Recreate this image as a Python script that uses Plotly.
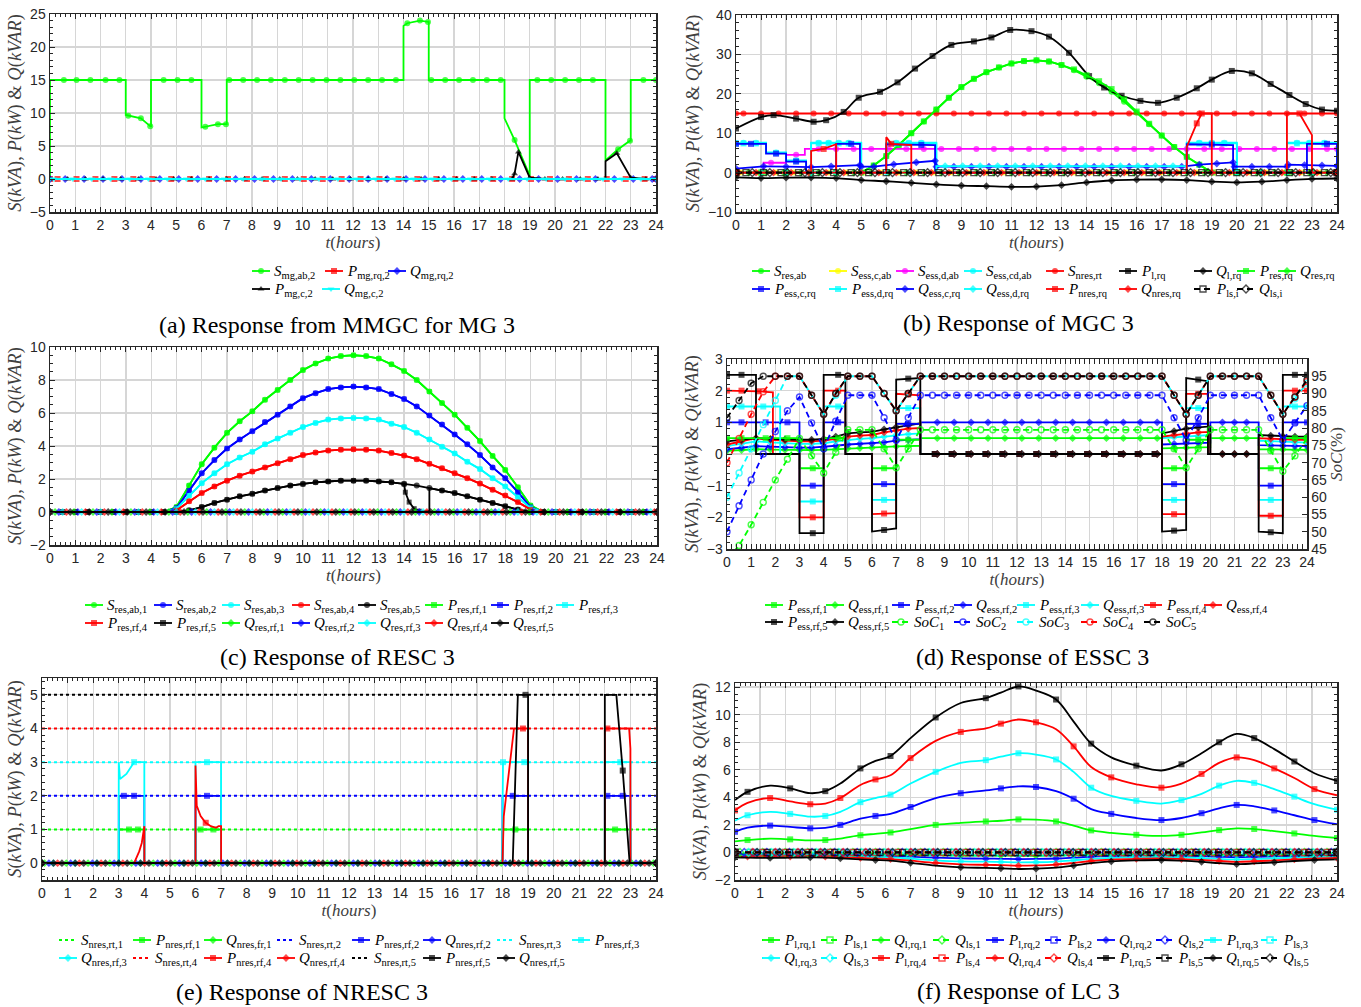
import numpy as np
import plotly.graph_objects as go

W, H = 1361, 1007

# ============================ DATA ============================
# ---------- (a) Response from MMGC for MG 3 ----------
A_S_ab2_t = [0, 0, 0.55, 1.05, 1.6, 2.2, 2.75, 3, 3, 3.1, 3.6, 3.97, 4, 4,
             4.5, 5.05, 5.6, 6, 6, 6.15, 6.65, 6.97, 7, 7,
             7.1, 7.65, 8.2, 8.75, 9.3, 9.85, 10.4, 10.95, 11.5, 12.05, 12.6, 13.15, 13.7, 14, 14,
             14.15, 14.65, 14.97, 15, 15,
             15.1, 15.65, 16.2, 16.75, 17.3, 17.85, 18, 18, 18.4, 19, 19,
             19.3, 19.85, 20.4, 20.95, 21.5, 22, 22, 22.5, 22.97, 23, 23, 23.5, 24]
A_S_ab2 = [0, 15, 15, 15, 15, 15, 15, 15, 9.7, 9.6, 9.2, 8.0, 8.0, 15,
           15, 15, 15, 15, 7.8, 7.9, 8.3, 8.3, 8.3, 15,
           15, 15, 15, 15, 15, 15, 15, 15, 15, 15, 15, 15, 15, 15, 23.2,
           23.6, 24.0, 23.8, 23.8, 15,
           15, 15, 15, 15, 15, 15, 15, 9.2, 5.9, 0.5, 15,
           15, 15, 15, 15, 15, 15, 2.8, 4.5, 5.8, 5.8, 15, 15, 15]
A_P_c2_t = [0, 0.7, 1.4, 2.1, 2.8, 3.5, 4.2, 4.9, 5.6, 6.3, 7.0, 7.7, 8.4, 9.1, 9.8, 10.5,
            11.2, 11.9, 12.6, 13.3, 14.0, 14.7, 15.4, 16.1, 16.8, 17.5,
            18.3, 18.4, 18.55, 19.0, 19.6, 20.3, 21.0, 21.7, 22.0, 22.0, 22.45, 23.0, 23.6, 24.0]
A_P_c2 = [0] * 27 + [0.8, 4.1, 0.2] + [0] * 4 + [0, 2.7, 3.9, 0.2] + [0, 0]

# ---------- (b) Response of MGC 3 ----------
B_P_l_rq_t = [0, 1, 1.5, 2.4, 3.1, 3.6, 4.3, 4.9, 5.75, 6.45, 7.15, 7.85, 8.6, 9.5, 10.2, 10.95,
              11.8, 12.5, 13.3, 14.1, 14.7, 15.4, 16.15, 16.85, 17.6, 18.4, 19, 19.8, 20.6,
              21.35, 22.1, 22.75, 23.4, 24]
B_P_l_rq = [11.2, 14.1, 14.6, 13.7, 12.9, 13.3, 15.4, 19, 20.5, 22.9, 26.4, 29.6, 32.4, 33.3, 34.3,
            36.2, 35.9, 34.5, 30.4, 24.5, 21.6, 19.5, 18.2, 17.7, 19, 21.4, 23.6, 25.8, 25.2,
            22.5, 19.7, 17.4, 16, 15.7]
B_Q_l_rq_t = [0, 1, 2, 3, 4, 5, 6, 7, 8, 9, 10, 11, 12, 13, 14, 15, 16, 17, 18, 19, 20, 21, 22, 23, 24]
B_Q_l_rq = [-1.2, -1.4, -1.3, -1.25, -1.4, -1.9, -2.2, -2.6, -3.0, -3.3, -3.45, -3.6, -3.55,
            -3.2, -2.5, -2.0, -1.8, -1.75, -1.9, -2.3, -2.5, -2.3, -1.9, -1.6, -1.5]
B_RES_t = [0, 1, 2, 3, 4, 5, 5.5, 6, 6.5, 7, 7.5, 8, 8.5, 9, 9.5, 10, 10.5, 11, 11.5, 12, 12.5,
           13, 13.5, 14, 14.5, 15, 15.5, 16, 16.5, 17, 17.5, 18, 18.5, 19, 20, 21, 22, 23, 24]
B_S_res_ab = [0, 0, 0, 0, 0, 0, 1.8, 4.2, 7, 10, 13, 16, 19, 21.7, 23.8, 25.5, 26.7, 27.7, 28.3,
              28.5, 28.2, 27.3, 26, 24.3, 22.7, 20.5, 18, 15.2, 12.3, 9.4, 6.5, 4, 2, 0, 0, 0, 0, 0, 0]
B_P_res_rq = [0, 0, 0, 0, 0, 0, 1.8, 4.2, 7, 10, 13, 16, 19, 21.7, 23.8, 25.5, 26.7, 27.7, 28.3,
              28.5, 28.2, 27.3, 26.2, 24.7, 23.2, 21.2, 18.6, 15.5, 12.4, 9.4, 6.5, 4, 2, 0, 0, 0, 0, 0, 0]
B_ESS_CD_t = [0, 0.3, 0.8, 1.2, 1.2, 1.6, 2, 2, 2.4, 2.8, 2.8, 3, 3, 3.3, 3.7, 4.1, 4.5, 5, 5,
              6, 6, 6.4, 6.9, 7.4, 8, 8, 18, 18, 18.5, 19.0, 19.5, 20, 20, 22, 22, 22.4, 22.9, 23.5, 24, 24]
B_S_ess_cd_ab = [7.5, 7.6, 7.6, 7.6, 5.1, 5.1, 5.1, 3.1, 3.1, 3.1, 0, 0, 7.6, 7.6, 7.6, 7.6, 7.6, 7.6, 0,
                 0, 7.6, 7.6, 7.6, 7.6, 7.6, 0, 0, 7.6, 7.6, 7.6, 7.6, 7.6, 0, 0, 7.6, 7.6, 7.6, 7.6, 7.6, 0]
B_P_ess_d_rq = [7.4, 7.4, 7.4, 7.4, 5.0, 5.0, 5.0, 3.0, 3.0, 3.0, 0, 0, 7.4, 7.4, 7.4, 7.4, 7.4, 7.4, 0,
                0, 7.4, 7.4, 7.4, 7.4, 7.4, 0, 0, 7.4, 7.4, 7.4, 7.4, 7.4, 0, 0, 7.4, 7.4, 7.4, 7.4, 7.4, 0]
B_P_ess_c_rq_t = [0, 0.6, 1.2, 1.2, 1.6, 2, 2, 2.4, 2.8, 2.8, 4, 4, 4.6, 4.95, 4.95, 6, 6, 7.4, 7.95,
                  7.95, 18, 18, 19.0, 19.85, 19.85, 22.8, 22.8, 23.6, 24, 24]
B_P_ess_c_rq = [7.3, 7.3, 7.3, 4.8, 4.8, 4.8, 2.8, 2.8, 2.8, 0, 0, 7.3, 7.3, 7.3, 0, 0, 7.2, 7.0, 7.0,
                0, 0, 7.2, 7.1, 7.0, 0, 0, 7.3, 7.3, 7.3, 0]
B_S_ess_d_ab_t = [0, 1.1, 1.1, 1.4, 2.0, 2.0, 2.4, 2.75, 2.75, 3.3, 4.0, 4.7, 5.4, 6.1, 6.8, 7.5, 8.2,
                  8.9, 9.6, 10.3, 11.0, 11.7, 12.4, 13.1, 13.8, 14.5, 15.2, 15.9, 16.6, 17.3, 18.0,
                  18.7, 19.4, 20.1, 20.8, 21.5, 22.2, 22.9, 23.6, 24.0]
B_S_ess_d_ab = [0, 0, 2.5, 2.5, 2.5, 4.5, 4.5, 4.5, 6.0] + [6.0] * 31
B_Q_ess_c_rq_t = [0, 1.1, 2.0, 3.0, 3.8, 4.95, 5.0, 5.5, 6.3, 7.2, 7.95, 8.0, 8.7, 9.4, 10.1, 10.8,
                  11.5, 12.2, 12.9, 13.6, 14.3, 15.0, 15.7, 16.4, 17.1, 17.8, 18.5, 19.2, 19.85,
                  19.9, 20.6, 21.3, 22.0, 22.05, 22.7, 23.4, 24.0]
B_Q_ess_c_rq = [1.0, 1.6, 1.5, 1.4, 1.6, 1.9, 1.5, 1.5, 2.1, 2.6, 3.0] + [1.5] * 15 + \
               [2.0, 2.3, 2.6] + [1.5] * 4 + [2.0, 1.9, 1.8, 1.7]
B_Q_ess_d_rq_t = [0, 1, 2, 3, 4, 5, 6, 7, 8, 8, 8.35, 9.05, 9.75, 10.45, 11.15, 11.85, 12.55, 13.25,
                  13.95, 14.65, 15.35, 16.05, 16.75, 17.45, 18, 18, 19, 20, 21, 22, 23, 24]
B_Q_ess_d_rq = [0] * 9 + [1.65] * 16 + [0] * 7
B_P_nres_rq_t = [0, 3, 3, 3.5, 4, 4, 6, 6, 6.2, 7, 7, 18, 18, 18.4, 18.6, 19, 19, 22, 22, 22.5, 23, 23, 24]
B_P_nres_rq = [0, 0, 5.5, 6, 7.2, 0, 0, 9, 7.3, 7, 0, 0, 6.5, 12.5, 15, 15, 0, 0, 15, 15, 9.5, 0, 0]
B_S_NRES_LEVEL = 15

# ---------- (c) Response of RESC 3 ----------
T_C = [round(v, 2) for v in np.arange(0, 24.01, 0.5)]
C_S1 = [0] * 10 + [0.3, 1.6, 2.9, 3.9, 4.8, 5.5, 6.1, 6.8, 7.4, 8.0, 8.6, 9.0, 9.3, 9.45, 9.5, 9.45,
                   9.3, 8.95, 8.55, 8.0, 7.3, 6.6, 5.9, 5.1, 4.3, 3.4, 2.55, 1.5, 0.4] + [0] * 10
C_S2 = [0] * 10 + [0.25, 1.3, 2.35, 3.15, 3.85, 4.4, 4.9, 5.45, 5.9, 6.4, 6.9, 7.2, 7.45, 7.55, 7.6,
                   7.55, 7.45, 7.15, 6.85, 6.4, 5.85, 5.3, 4.7, 4.1, 3.45, 2.7, 2.05, 1.2, 0.3] + [0] * 10
C_S3 = [0] * 10 + [0.2, 1.0, 1.75, 2.35, 2.9, 3.3, 3.65, 4.1, 4.45, 4.8, 5.15, 5.4, 5.6, 5.67, 5.7,
                   5.67, 5.6, 5.35, 5.15, 4.8, 4.4, 3.95, 3.55, 3.05, 2.6, 2.05, 1.55, 0.9, 0.25] + [0] * 10
C_S4 = [0] * 10 + [0.1, 0.65, 1.15, 1.55, 1.9, 2.2, 2.45, 2.7, 2.95, 3.2, 3.45, 3.6, 3.72, 3.78, 3.8,
                   3.78, 3.72, 3.58, 3.42, 3.2, 2.92, 2.65, 2.35, 2.05, 1.72, 1.35, 1.0, 0.6, 0.15] + [0] * 10
C_S5 = [0] * 10 + [0, 0.1, 0.3, 0.55, 0.75, 0.95, 1.1, 1.3, 1.45, 1.6, 1.7, 1.8, 1.85, 1.9, 1.9,
                   1.9, 1.85, 1.8, 1.7, 1.6, 1.45, 1.3, 1.15, 0.95, 0.75, 0.55, 0.35, 0.15, 0] + [0] * 10
C_P5_t = [round(v, 2) for v in np.arange(0, 14.01, 0.5)] + [14.05, 14.2, 14.4, 14.6, 15, 15] + \
         [round(v, 2) for v in np.arange(15.5, 24.01, 0.5)]
C_P5 = [0] * 10 + [0, 0.1, 0.3, 0.55, 0.75, 0.95, 1.1, 1.3, 1.45, 1.6, 1.7, 1.8, 1.85, 1.9, 1.9, 1.9,
                   1.85, 1.8, 1.7] + [1.2, 0.6, 0.2, 0.05, 0.05, 1.45] + \
       [1.3, 1.15, 0.95, 0.75, 0.55, 0.35, 0.15, 0] + [0] * 10

# ---------- (d) Response of ESSC 3 ----------
D_MID_T = [8.6, 9.3, 10.0, 10.7, 11.4, 12.1, 12.8, 13.5, 14.2, 14.9, 15.6, 16.3, 17.0, 17.7]
D_LAST_T = [18, 18, 18.5, 19, 19, 19.5, 19.9, 19.9, 22, 22, 22.5, 23, 23, 23.5, 24]
D_P5_T = [0, 0.6, 1.2, 1.2, 3, 3, 3.55, 4, 4, 4.6, 4.9, 4.9, 6, 6, 6.5, 7, 7, 7.5, 8, 8]
D_P4_T = [0, 0.6, 1.3, 1.9, 1.9, 3, 3, 3.55, 4, 4, 4.6, 4.9, 4.9, 6, 6, 6.5, 7, 7, 7.5, 8, 8]
D_P3_T = [0, 0.6, 1.5, 2.2, 2.2, 3, 3, 3.55, 4, 4, 4.6, 4.9, 4.9, 6, 6, 6.5, 7, 7, 7.5, 8, 8]
D_P12_T = [0, 0.6, 1.6, 2.5, 3, 3, 3.55, 4, 4, 4.6, 4.9, 4.9, 6, 6, 6.5, 7, 7, 7.5, 8, 8]
D_P5 = [2.5, 2.5, 2.5, 0, 0, -2.5, -2.5, -2.5, 2.5, 2.5, 2.5, 0, 0, -2.45, -2.4, -2.35, 2.35, 2.38, 2.4, 0] + \
       [0] * 14 + [0, -2.45, -2.42, -2.4, 2.4, 2.35, 2.3, 0, 0, -2.45, -2.47, -2.5, 2.5, 2.5, 2.5]
D_P4 = [2.0, 2.0, 1.98, 1.95, 0, 0, -2.0, -2.0, -2.0, 2.0, 2.0, 2.0, 0, 0, -1.9, -1.88, -1.87, 1.9, 1.88, 1.85, 0] + \
       [0] * 14 + [0, -1.9, -1.9, -1.9, 1.9, 1.9, 1.9, 0, 0, -1.95, -1.95, -1.95, 2.0, 2.0, 2.0]
D_P3 = [1.5, 1.5, 1.5, 1.5, 0, 0, -1.5, -1.5, -1.5, 1.5, 1.5, 1.5, 0, 0, -1.45, -1.45, -1.45, 1.45, 1.45, 1.45, 0] + \
       [0] * 14 + [0, -1.45, -1.45, -1.45, 1.45, 1.45, 1.45, 0, 0, -1.45, -1.45, -1.45, 1.5, 1.5, 1.5]
D_P2 = [1.0, 1.0, 1.0, 1.0, 1.0, -1.0, -1.0, -1.0, 1.0, 1.0, 1.0, 0, 0, -0.95, -0.95, -0.95, 0.95, 0.95, 0.95, 0] + \
       [0] * 14 + [0, -0.95, -0.95, -0.95, 0.95, 0.95, 0.95, 0, 0, -1.0, -1.0, -1.0, 1.0, 1.0, 1.0]
D_P1 = [0.5, 0.5, 0.5, 0.5, 0.5, -0.45, -0.45, -0.45, 0.5, 0.5, 0.5, 0, 0, -0.45, -0.45, -0.45, 0.45, 0.45, 0.45, 0] + \
       [0] * 14 + [0, -0.45, -0.45, -0.45, 0.45, 0.45, 0.45, 0, 0, -0.45, -0.45, -0.45, 0.5, 0.5, 0.5]
D_QT = [0, 0.6, 1.2, 1.8, 2.4, 3.0, 3.5, 4.0, 4.5, 5.0, 5.5, 6.0, 6.5, 7.0, 7.5, 8.0, 8.0,
        8.7, 9.4, 10.1, 10.8, 11.5, 12.2, 12.9, 13.6, 14.3, 15.0, 15.7, 16.4, 17.1, 17.8,
        18.0, 18.0, 18.5, 19.0, 19.5, 20.0, 20.0, 20.5, 21.0, 21.5, 22.0, 22.0, 22.5, 23.0, 23.5, 24.0]
D_Q5 = [0.4, 0.45, 0.5, 0.48, 0.46, 0.45, 0.45, 0.48, 0.55, 0.65, 0.68, 0.7, 0.78, 0.85, 0.92, 0.97, 0] + \
       [0] * 14 + [0, 0.65, 0.72, 0.8, 0.84, 0.87, 0, 0, 0, 0, 0, 0.6, 0.58, 0.56, 0.55, 0.55]
D_Q4 = [0.3, 0.4, 0.5, 0.45, 0.42, 0.4, 0.4, 0.42, 0.48, 0.55, 0.58, 0.6, 0.68, 0.75, 0.8, 0.82, 0] + \
       [0] * 14 + [0, 0.55, 0.6, 0.65, 0.68, 0.7, 0, 0, 0, 0, 0, 0.5, 0.48, 0.46, 0.45, 0.45]
D_Q3 = [0.25, 0.32, 0.4, 0.37, 0.34, 0.32, 0.32, 0.34, 0.4, 0.45, 0.48, 0.5, 0.55, 0.6, 0.63, 0.65, 0] + \
       [0] * 14 + [0, 0.5, 0.53, 0.56, 0.58, 0.6, 0, 0, 0, 0, 0, 0.42, 0.4, 0.38, 0.37, 0.36]
D_Q2 = [0.15, 0.2, 0.25, 0.23, 0.21, 0.2, 0.2, 0.22, 0.26, 0.3, 0.32, 0.33, 0.37, 0.42, 0.45, 0.47, 1.0] + \
       [1.0] * 14 + [1.0, 0.3, 0.32, 0.34, 0.35, 0.36, 1.0, 1.0, 1.0, 1.0, 1.0, 0.28, 0.27, 0.26, 0.25, 0.25]
D_Q1 = [0.1, 0.12, 0.15, 0.14, 0.13, 0.12, 0.12, 0.13, 0.15, 0.18, 0.19, 0.2, 0.22, 0.24, 0.25, 0.26, 0.5] + \
       [0.5] * 14 + [0.5, 0.18, 0.19, 0.2, 0.21, 0.22, 0.5, 0.5, 0.5, 0.5, 0.5, 0.15, 0.14, 0.14, 0.13, 0.13]
T_D = [round(v, 2) for v in np.arange(0, 24.01, 0.5)]
D_SOC5 = [83, 88, 93, 95, 95, 95, 95, 89.5, 84, 90, 95, 95, 95, 90, 85, 90, 95] + [95] * 20 + \
         [89.5, 84, 89.5, 95, 95, 95, 95, 95, 89.5, 84, 89, 94]
D_SOC4 = [70, 77, 84, 90.5, 95, 95, 95, 89.5, 84, 90, 95, 95, 95, 90, 85, 90, 95] + [95] * 20 + \
         [89.5, 84, 89.5, 95, 95, 95, 95, 95, 89.5, 84, 89, 93.5]
D_SOC3 = [60, 67, 74, 81, 88, 95, 95, 89.5, 84, 89.5, 95, 95, 95, 90, 85, 90, 95] + [95] * 20 + \
         [89.5, 84, 89.5, 95, 95, 95, 95, 95, 89.5, 84, 88.5, 93]
D_SOC2 = [50, 57.5, 65, 72.5, 79, 85, 89, 81.5, 74, 82, 89.5, 89.5, 89.5, 83, 76.5, 83, 89.5] + [89.5] * 20 + \
         [83, 76.5, 83, 89.5, 89.5, 89.5, 89.5, 89.5, 83, 76.5, 81.5, 86.5]
D_SOC1 = [42, 46, 52, 58.5, 65, 71, 77, 72, 67, 73, 79.5, 79.5, 79.5, 74, 68.5, 74, 79.5] + [79.5] * 20 + \
         [74, 68.5, 74, 79.5, 79.5, 79.5, 79.5, 79.5, 73.5, 67.5, 72, 77]

# ---------- (e) Response of NRESC 3 ----------
E_S_RT = [1, 2, 3, 4, 5]          # S_nres,rt,k levels
E_P1_t = [0, 3, 3, 3.4, 3.75, 4, 4, 6, 6, 6.2, 6.7, 7, 7, 18, 18, 18.5, 19, 19, 22, 22, 22.4, 23, 23, 24]
E_P1 = [0, 0, 1, 1, 1, 1, 0, 0, 1, 1, 1, 1, 0, 0, 1, 1, 1, 0, 0, 1, 1, 1, 0, 0]
E_P2_t = [0, 3, 3, 3.2, 3.6, 4, 4, 6, 6, 6.45, 7, 7, 18, 18, 18.4, 19, 19, 22, 22, 22.1, 22.7, 23, 23, 24]
E_P2 = [0, 0, 2, 2, 2, 2, 0, 0, 2, 2, 2, 0, 0, 2, 2, 2, 0, 0, 2, 2, 2, 2, 0, 0]
E_P3_t = [0, 3, 3, 3.05, 3.3, 3.6, 4, 4, 6, 6, 6.45, 7, 7, 18, 18, 18.02, 18.85, 19, 19,
          22, 22, 22.6, 23, 23, 24]
E_P3 = [0, 0, 3, 2.5, 2.65, 3, 3, 0, 0, 3, 3, 3, 0, 0, 1.4, 3, 3, 3, 0, 0, 3, 3, 3, 0, 0]
E_P4_t = [0, 3.6, 3.8, 3.9, 4, 4, 6, 6, 6.05, 6.2, 6.4, 6.6, 6.8, 6.9, 7, 7,
          18, 18.05, 18.45, 18.8, 19, 19, 22, 22, 22.1, 22.95, 23, 23, 24]
E_P4 = [0, 0, 0.35, 0.6, 1.1, 0, 0, 2.9, 1.7, 1.4, 1.2, 1.1, 1.05, 1.1, 1.1, 0,
        0, 1.4, 4, 4, 4, 0, 0, 4, 4, 4, 3.4, 0, 0]
E_P5_t = [0, 18.4, 18.6, 18.9, 19, 19, 22, 22, 22.45, 22.7, 22.97, 24]
E_P5 = [0, 0, 5, 5, 5, 0, 0, 5, 5, 2.75, 0, 0]

# ---------- (f) Response of LC 3 ----------
T_F = [0, 0.5, 1.4, 2.2, 3.0, 3.6, 4.2, 5.0, 5.6, 6.2, 7.0, 8.0, 9.0, 10.0, 10.6, 11.3, 12.0, 12.8,
       13.5, 14.2, 15.0, 16.0, 17.0, 17.8, 18.6, 19.3, 20.0, 20.7, 21.5, 22.3, 23.1, 24.0]
F_P5 = [3.8, 4.4, 4.85, 4.65, 4.3, 4.45, 5.0, 6.1, 6.65, 7.0, 8.3, 9.8, 10.85, 11.2, 11.6, 12.05, 11.75,
        11.1, 9.5, 7.9, 6.9, 6.3, 5.95, 6.4, 7.2, 8.0, 8.6, 8.3, 7.5, 6.6, 5.75, 5.2]
F_P4 = [3.05, 3.6, 3.95, 3.7, 3.5, 3.55, 3.95, 4.9, 5.3, 5.6, 6.85, 8.1, 8.75, 9.0, 9.35, 9.65, 9.45,
        8.95, 7.7, 6.2, 5.45, 4.95, 4.7, 5.0, 5.7, 6.5, 6.9, 6.7, 6.1, 5.4, 4.6, 4.15]
F_P3 = [2.3, 2.7, 2.95, 2.8, 2.6, 2.65, 2.95, 3.65, 3.95, 4.2, 5.0, 5.85, 6.5, 6.7, 6.95, 7.2, 7.1,
        6.75, 5.85, 4.7, 4.1, 3.75, 3.55, 3.8, 4.25, 4.85, 5.2, 5.05, 4.6, 4.05, 3.5, 3.1]
F_P2 = [1.5, 1.8, 1.95, 1.85, 1.75, 1.78, 2.0, 2.45, 2.65, 2.8, 3.3, 3.95, 4.3, 4.5, 4.65, 4.8, 4.75,
        4.45, 3.9, 3.15, 2.8, 2.5, 2.35, 2.5, 2.85, 3.2, 3.45, 3.35, 3.05, 2.7, 2.35, 2.05]
F_P1 = [0.8, 0.9, 1.0, 0.95, 0.88, 0.9, 1.0, 1.25, 1.35, 1.45, 1.7, 2.0, 2.15, 2.25, 2.3, 2.4, 2.38,
        2.25, 1.95, 1.6, 1.42, 1.28, 1.2, 1.28, 1.45, 1.62, 1.75, 1.7, 1.55, 1.38, 1.2, 1.05]
F_Q5 = [-0.35, -0.38, -0.4, -0.38, -0.35, -0.37, -0.42, -0.5, -0.55, -0.6, -0.75, -0.95, -1.08, -1.12,
        -1.15, -1.2, -1.18, -1.1, -0.95, -0.78, -0.65, -0.58, -0.55, -0.6, -0.68, -0.78, -0.85, -0.8,
        -0.72, -0.62, -0.55, -0.5]
F_Q4 = [-0.28, -0.3, -0.32, -0.3, -0.28, -0.3, -0.34, -0.4, -0.44, -0.48, -0.6, -0.76, -0.86, -0.9,
        -0.92, -0.96, -0.94, -0.88, -0.76, -0.62, -0.52, -0.46, -0.44, -0.48, -0.54, -0.62, -0.68,
        -0.64, -0.58, -0.5, -0.44, -0.4]
F_Q3 = [-0.21, -0.23, -0.24, -0.23, -0.21, -0.22, -0.25, -0.3, -0.33, -0.36, -0.45, -0.57, -0.65,
        -0.67, -0.69, -0.72, -0.71, -0.66, -0.57, -0.47, -0.39, -0.35, -0.33, -0.36, -0.41, -0.47,
        -0.51, -0.48, -0.43, -0.37, -0.33, -0.3]
F_Q2 = [-0.14, -0.15, -0.16, -0.15, -0.14, -0.15, -0.17, -0.2, -0.22, -0.24, -0.3, -0.38, -0.43,
        -0.45, -0.46, -0.48, -0.47, -0.44, -0.38, -0.31, -0.26, -0.23, -0.22, -0.24, -0.27, -0.31,
        -0.34, -0.32, -0.29, -0.25, -0.22, -0.2]
F_Q1 = [-0.07, -0.08, -0.08, -0.08, -0.07, -0.07, -0.08, -0.1, -0.11, -0.12, -0.15, -0.19, -0.22,
        -0.22, -0.23, -0.24, -0.24, -0.22, -0.19, -0.16, -0.13, -0.12, -0.11, -0.12, -0.14, -0.16,
        -0.17, -0.16, -0.14, -0.12, -0.11, -0.1]

XTICKS = list(range(0, 25))
XTICK_LABELS = [str(v) for v in XTICKS]

# ============================ STYLE ============================
GRN, BLU, CYN, RED, BLK, MAG, YEL = '#00ff00', '#0000ff', '#00ffff', '#ff0000', '#000000', '#ff00ff', '#ffff00'
COLS5 = [GRN, BLU, CYN, RED, BLK]
SERIF = 'Liberation Serif, Times New Roman, serif'
SANS = 'Liberation Sans, Arial, sans-serif'
DASH = '6px,4px'

fig = go.Figure()
ann = []


def ax_name(p):
    return 'x' if p == 1 else 'x%d' % p


def ay_name(p):
    return 'y' if p == 1 else 'y%d' % p


def zgrid(off, step):
    return [0.0] + [round(v, 3) for v in np.arange(off, 24.0, step)] + [24.0]


def add_series(p, t, y, color, symbol='circle', dash='solid', ms=6, lw=1.8, mk_idx=None,
               shape='linear', open_mk=False, yaxis=None, mode='lines+markers', xaxis=None):
    t = list(t)
    n = len(t)
    if mk_idx is None:
        sizes = [0 if ((i > 0 and t[i] == t[i - 1]) or (i < n - 1 and t[i] == t[i + 1])) else ms
                 for i in range(n)]
    else:
        ks = set(mk_idx)
        sizes = [ms if i in ks else 0 for i in range(n)]
    sym = (symbol or 'circle') + ('-open' if open_mk else '')
    fig.add_trace(go.Scatter(
        x=t, y=list(y), mode=mode,
        line=dict(color=color, width=lw, dash=dash, shape=shape),
        marker=dict(symbol=sym, size=sizes, color=color,
                    line=dict(color=color, width=1.4 if open_mk else 0)),
        xaxis=xaxis or ax_name(p), yaxis=yaxis or ay_name(p), showlegend=False, hoverinfo='skip'))


def add_zero(p, off, step, color, symbol, dash='solid', open_mk=False, lw=1.8, ms=6):
    t = zgrid(off, step)
    add_series(p, t, [0.0] * len(t), color, symbol, dash=dash, open_mk=open_mk, lw=lw, ms=ms)


def nm(letter, sub):
    return '<i>%s</i><sub>%s</sub>' % (letter, sub)


# ---------------- panel (a) ----------------
add_series(1, A_S_ab2_t, A_S_ab2, GRN, 'circle')
add_zero(1, 0.3, 0.75, RED, 'square')
add_zero(1, 0.6, 0.75, BLU, 'diamond')
add_series(1, A_P_c2_t, A_P_c2, BLK, 'triangle-up')
add_zero(1, 0.15, 0.75, CYN, 'triangle-down')

# ---------------- panel (b) ----------------
add_series(2, B_RES_t, B_S_res_ab, GRN, 'circle')
add_zero(2, 0.2, 0.7, YEL, 'circle')
add_series(2, B_S_ess_d_ab_t, B_S_ess_d_ab, MAG, 'circle')
add_series(2, B_ESS_CD_t, B_S_ess_cd_ab, CYN, 'circle')
t_nres = zgrid(0.3, 0.7)
add_series(2, t_nres, [B_S_NRES_LEVEL] * len(t_nres), RED, 'circle')
add_series(2, B_P_l_rq_t, B_P_l_rq, BLK, 'square', shape='spline')
add_series(2, B_Q_l_rq_t, B_Q_l_rq, BLK, 'diamond', shape='spline')
add_series(2, B_RES_t, B_P_res_rq, GRN, 'square')
add_zero(2, 0.5, 0.7, GRN, 'diamond')
add_series(2, B_ESS_CD_t, B_P_ess_d_rq, CYN, 'square')
add_series(2, B_P_ess_c_rq_t, B_P_ess_c_rq, BLU, 'square')
add_series(2, B_Q_ess_c_rq_t, B_Q_ess_c_rq, BLU, 'diamond')
add_series(2, B_Q_ess_d_rq_t, B_Q_ess_d_rq, CYN, 'diamond')
add_series(2, B_P_nres_rq_t, B_P_nres_rq, RED, 'square')
add_zero(2, 0.1, 0.7, RED, 'diamond')
add_zero(2, 0.4, 0.7, BLK, 'square', dash=DASH, open_mk=True)
add_zero(2, 0.65, 0.7, BLK, 'diamond', dash=DASH, open_mk=True)

# ---------------- panel (c) ----------------
C_S = [C_S1, C_S2, C_S3, C_S4, C_S5]
for k in range(5):
    add_series(3, T_C, C_S[k], COLS5[k], 'circle')
for k in range(4):
    add_series(3, T_C, C_S[k], COLS5[k], 'square', ms=5)
add_series(3, C_P5_t, C_P5, BLK, 'square', ms=5,
           mk_idx=[i for i in range(len(C_P5_t)) if i not in (33, 34)])
for k in range(5):
    add_zero(3, 0.2 + 0.15 * k, 0.75, COLS5[k], 'diamond')

# ---------------- panel (d) ----------------
D_PT = [D_P12_T, D_P12_T, D_P3_T, D_P4_T, D_P5_T]
D_P = [D_P1, D_P2, D_P3, D_P4, D_P5]
D_Q = [D_Q1, D_Q2, D_Q3, D_Q4, D_Q5]
D_SOC = [D_SOC1, D_SOC2, D_SOC3, D_SOC4, D_SOC5]
for k in range(5):
    add_series(4, T_D, D_SOC[k], COLS5[k], 'circle', dash=DASH, open_mk=True, yaxis='y7', ms=6)
for k in range(5):
    add_series(4, D_QT, D_Q[k], COLS5[k], 'diamond')
for k in range(5):
    add_series(4, D_PT[k] + D_MID_T + D_LAST_T, D_P[k], COLS5[k], 'square')

# ---------------- panel (e) ----------------
for k in range(5):
    add_series(5, [0, 24], [E_S_RT[k], E_S_RT[k]], COLS5[k], dash='dot', mode='lines', lw=2)
for k in range(5):
    add_zero(5, 0.1 + 0.17 * k, 0.85, COLS5[k], 'diamond')
add_series(5, E_P1_t, E_P1, GRN, 'square', mk_idx=[3, 4, 9, 10, 15, 20])
add_series(5, E_P2_t, E_P2, BLU, 'square', mk_idx=[3, 4, 9, 14, 19, 20])
add_series(5, E_P3_t, E_P3, CYN, 'square', mk_idx=[5, 10, 15, 16, 21])
add_series(5, E_P4_t, E_P4, RED, 'square', mk_idx=[10, 19, 24])
add_series(5, E_P5_t, E_P5, BLK, 'square', mk_idx=[3, 9])
add_zero(5, 0.45, 0.85, BLK, 'diamond')

# ---------------- panel (f) ----------------
F_P = [F_P1, F_P2, F_P3, F_P4, F_P5]
F_Q = [F_Q1, F_Q2, F_Q3, F_Q4, F_Q5]
for k in range(5):
    add_series(6, T_F, F_Q[k], COLS5[k], 'diamond', shape='spline', mk_idx=list(range(k % 2, 32, 2)))
for k in range(5):
    add_series(6, T_F, F_P[k], COLS5[k], 'square', shape='spline', mk_idx=list(range((k + 1) % 2, 32, 2)))
for k in range(5):
    add_zero(6, 0.2 + 0.17 * k, 0.9, COLS5[k], 'diamond', dash=DASH, open_mk=True)
    add_zero(6, 0.6 + 0.17 * k, 0.9, COLS5[k], 'square', dash=DASH, open_mk=True)

# ============================ LEGENDS (drawn as keys + text) ============================
S_, D_ = 'solid', DASH
LEG_A = [(271, [252, 325, 388], [(nm('S', 'mg,ab,2'), GRN, 'circle', S_, False),
                                 (nm('P', 'mg,rq,2'), RED, 'square', S_, False),
                                 (nm('Q', 'mg,rq,2'), BLU, 'diamond', S_, False)]),
         (289, [252, 322], [(nm('P', 'mg,c,2'), BLK, 'triangle-up', S_, False),
                            (nm('Q', 'mg,c,2'), CYN, 'triangle-down', S_, False)])]
B_COLX = [752, 829, 896, 964, 1046, 1119, 1194, 1237, 1278]
LEG_B = [(271, B_COLX, [(nm('S', 'res,ab'), GRN, 'circle', S_, False), (nm('S', 'ess,c,ab'), YEL, 'circle', S_, False),
                        (nm('S', 'ess,d,ab'), MAG, 'circle', S_, False), (nm('S', 'ess,cd,ab'), CYN, 'circle', S_, False),
                        (nm('S', 'nres,rt'), RED, 'circle', S_, False), (nm('P', 'l,rq'), BLK, 'square', S_, False),
                        (nm('Q', 'l,rq'), BLK, 'diamond', S_, False), (nm('P', 'res,rq'), GRN, 'square', S_, False),
                        (nm('Q', 'res,rq'), GRN, 'diamond', S_, False)]),
         (289, B_COLX, [(nm('P', 'ess,c,rq'), BLU, 'square', S_, False), (nm('P', 'ess,d,rq'), CYN, 'square', S_, False),
                        (nm('Q', 'ess,c,rq'), BLU, 'diamond', S_, False), (nm('Q', 'ess,d,rq'), CYN, 'diamond', S_, False),
                        (nm('P', 'nres,rq'), RED, 'square', S_, False), (nm('Q', 'nres,rq'), RED, 'diamond', S_, False),
                        (nm('P', 'ls,i'), BLK, 'square', D_, True), (nm('Q', 'ls,i'), BLK, 'diamond', D_, True)])]
C_COLX = [85, 154, 222, 292, 358, 425, 491, 556]
LEG_C = [(605, C_COLX, [(nm('S', 'res,ab,%d' % (k + 1)), COLS5[k], 'circle', S_, False) for k in range(5)] +
          [(nm('P', 'res,rf,%d' % (k + 1)), COLS5[k], 'square', S_, False) for k in range(3)]),
         (623, C_COLX, [(nm('P', 'res,rf,%d' % (k + 1)), COLS5[k], 'square', S_, False) for k in range(3, 5)] +
          [(nm('Q', 'res,rf,%d' % (k + 1)), COLS5[k], 'diamond', S_, False) for k in range(5)])]
D_COLX = [765, 826, 892, 954, 1017, 1081, 1144, 1204]
d_row1 = []
for k in range(4):
    d_row1 += [(nm('P', 'ess,rf,%d' % (k + 1)), COLS5[k], 'square', S_, False),
               (nm('Q', 'ess,rf,%d' % (k + 1)), COLS5[k], 'diamond', S_, False)]
LEG_D = [(605, D_COLX, d_row1),
         (622, D_COLX, [(nm('P', 'ess,rf,5'), BLK, 'square', S_, False), (nm('Q', 'ess,rf,5'), BLK, 'diamond', S_, False)] +
          [('<i>SoC</i><sub>%d</sub>' % (k + 1), COLS5[k], 'circle', D_, True) for k in range(5)])]
E_COLX = [59, 133, 204, 277, 352, 423, 497, 572]
e_items = []
for k in range(5):
    e_items += [(nm('S', 'nres,rt,%d' % (k + 1)), COLS5[k], None, 'dot', False),
                (nm('P', 'nres,rf,%d' % (k + 1)), COLS5[k], 'square', S_, False),
                (nm('Q', ('nres,fr,%d' if k == 0 else 'nres,rf,%d') % (k + 1)), COLS5[k], 'diamond', S_, False)]
LEG_E = [(940, E_COLX, e_items[:8]), (958, E_COLX, e_items[8:])]
F_COLX = [762, 821, 872, 933, 986, 1045, 1097, 1156, 1204, 1261]
f_items = []
for k in range(5):
    f_items += [(nm('P', 'l,rq,%d' % (k + 1)), COLS5[k], 'square', S_, False),
                (nm('P', 'ls,%d' % (k + 1)), COLS5[k], 'square', D_, True),
                (nm('Q', 'l,rq,%d' % (k + 1)), COLS5[k], 'diamond', S_, False),
                (nm('Q', 'ls,%d' % (k + 1)), COLS5[k], 'diamond', D_, True)]
LEG_F = [(940, F_COLX, f_items[:10]), (958, F_COLX, f_items[10:])]

KEY_LEN = 18
for rows in (LEG_A, LEG_B, LEG_C, LEG_D, LEG_E, LEG_F):
    for (ly, xs, items) in rows:
        for x0, (lab, col, sym, ds, op) in zip(xs, items):
            if sym is None:
                add_series(0, [x0, x0 + KEY_LEN], [ly, ly], col, dash=ds, mode='lines', lw=2,
                           xaxis='x7', yaxis='y8')
            else:
                add_series(0, [x0, x0 + KEY_LEN / 2, x0 + KEY_LEN], [ly, ly, ly], col, sym, dash=ds,
                           open_mk=op, mk_idx=[1], xaxis='x7', yaxis='y8')
            ann.append(dict(text=lab, x=(x0 + KEY_LEN + 2) / W, y=1 - (ly + 1) / H, xref='paper', yref='paper',
                            xanchor='left', yanchor='middle', showarrow=False,
                            font=dict(family=SERIF, size=15, color='#000000')))

# ============================ LAYOUT ============================
PANELS = {
    1: dict(x=(50, 656), y=(14, 212), yr=[-5, 25], dt=5, mdt=1),
    2: dict(x=(736, 1337), y=(15, 212), yr=[-10, 40], dt=10, mdt=2),
    3: dict(x=(50, 657), y=(347, 545), yr=[-2, 10], dt=2, mdt=0.5),
    4: dict(x=(727, 1307), y=(359, 549), yr=[-3, 3], dt=1, mdt=0.2),
    5: dict(x=(42, 656), y=(678, 880), yr=[-0.5, 5.5], dt=1, mdt=0.2),
    6: dict(x=(735, 1337), y=(683, 880), yr=[-2, 12.3], dt=2, mdt=0.5),
}
TXT = '#262626'
YTITLE = '<i>S</i>(<i>kVA</i>), <i>P</i>(<i>kW</i>) &amp; <i>Q</i>(<i>kVAR</i>)'
lay = {}
for p, d in PANELS.items():
    xk = 'xaxis' if p == 1 else 'xaxis%d' % p
    yk = 'yaxis' if p == 1 else 'yaxis%d' % p
    lay[xk] = dict(domain=[d['x'][0] / W, d['x'][1] / W], range=[0, 24], tickmode='array',
                   tickvals=XTICKS, ticktext=XTICK_LABELS,
                   anchor=ay_name(p), showline=True, linecolor=TXT, linewidth=1.5, mirror='allticks',
                   ticks='inside', ticklen=5, tickcolor=TXT, showgrid=True, gridcolor='#d6d6d6',
                   gridwidth=1.3, zeroline=False, automargin=False,
                   tickfont=dict(family=SANS, size=14, color=TXT),
                   minor=dict(ticks='inside', ticklen=3, dtick=0.2, tickcolor=TXT, showgrid=False),
                   title=dict(text='<i>t</i>(<i>hours</i>)', font=dict(family=SERIF, size=17, color='#404040'),
                              standoff=2))
    lay[yk] = dict(domain=[1 - d['y'][1] / H, 1 - d['y'][0] / H], range=d['yr'], dtick=d['dt'], tick0=0,
                   anchor=ax_name(p), showline=True, linecolor=TXT, linewidth=1.5,
                   mirror=(False if p == 4 else 'allticks'), automargin=False,
                   ticks='inside', ticklen=5, tickcolor=TXT, showgrid=True, gridcolor='#d6d6d6',
                   gridwidth=1.3, zeroline=False, tickfont=dict(family=SANS, size=14, color=TXT),
                   minor=dict(ticks='inside', ticklen=3, dtick=d['mdt'], tickcolor=TXT, showgrid=False),
                   title=dict(text=YTITLE, font=dict(family=SERIF, size=18.5, color='#404040'), standoff=3))
lay['yaxis7'] = dict(overlaying='y4', side='right', anchor='x4', range=[45, 100], automargin=False,
                     tickvals=[45, 50, 55, 60, 65, 70, 75, 80, 85, 90, 95], showline=True, linecolor=TXT,
                     linewidth=1.5, ticks='inside', ticklen=5, tickcolor=TXT, showgrid=False, zeroline=False,
                     tickfont=dict(family=SANS, size=14, color=TXT),
                     title=dict(text='<i>SoC</i>(%)', font=dict(family=SERIF, size=17, color='#404040'),
                                standoff=3))
# overlay pixel-space axes used only for the legend keys
lay['xaxis7'] = dict(domain=[0, 1], range=[0, W], visible=False, anchor='y8', fixedrange=True,
                     automargin=False)
lay['yaxis8'] = dict(domain=[0, 1], range=[H, 0], visible=False, anchor='x7', fixedrange=True,
                     automargin=False)

CAPTIONS = [('(a) Response from MMGC for MG 3', 337, 325), ('(b) Response of MGC 3', 1018, 323),
            ('(c) Response of RESC 3', 337, 657), ('(d) Response of ESSC 3', 1032, 657),
            ('(e) Response of NRESC 3', 302, 992), ('(f) Response of LC 3', 1018, 991)]
for c, cx, cy in CAPTIONS:
    ann.append(dict(text=c, x=cx / W, y=1 - cy / H, xref='paper', yref='paper', xanchor='center',
                    yanchor='middle', showarrow=False, font=dict(family=SERIF, size=24, color='#000000')))

fig.update_layout(width=W, height=H, margin=dict(l=0, r=0, t=0, b=0, autoexpand=False),
                  paper_bgcolor='white', plot_bgcolor='rgba(0,0,0,0)', annotations=ann,
                  showlegend=False, **lay)
fig.write_html('out.html', config={'displayModeBar': False, 'staticPlot': True},
               post_script="document.body.style.margin='0px';document.body.style.padding='0px';"
                           "document.body.style.overflow='hidden';")
